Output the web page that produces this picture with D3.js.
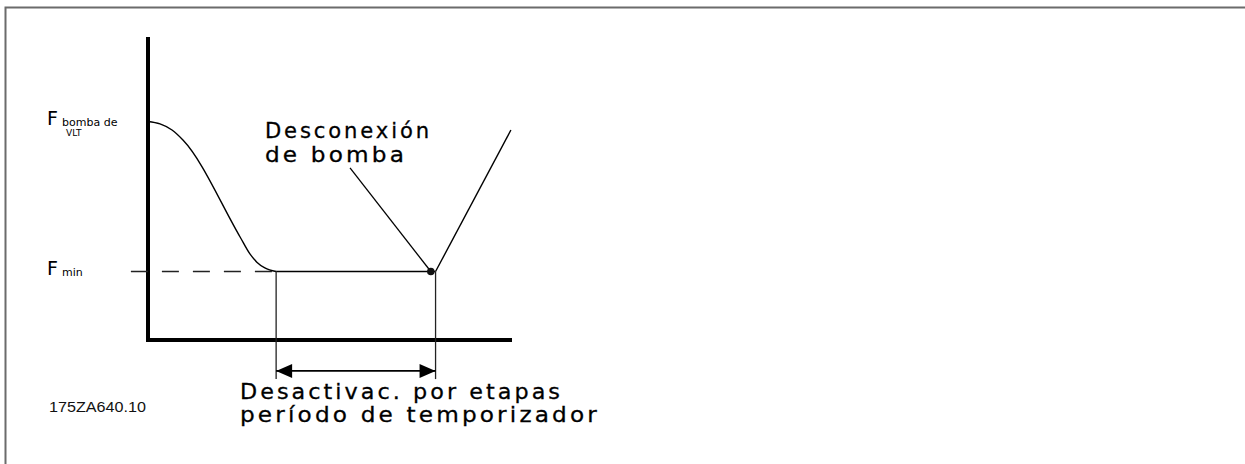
<!DOCTYPE html>
<html>
<head>
<meta charset="utf-8">
<script src="https://cdn.jsdelivr.net/npm/d3@7"></script>
<style>
	body { margin: 0; background: #fff; }
	svg { display: block; }
</style>
</head>
<body>
<div id="chart"></div>
<script>
const containerWidth = 1245;
const containerHeight = 464;

// curve of the pump frequency going down to F min
const curveTime = [0, 3.3, 6.6, 9.6, 25.3, 28.0, 29.9, 32.1, 35.2];
const curveFreq = [72.1, 71.3, 69.3, 66.0, 34.0, 28.4, 25.7, 23.8, 22.6];

// levels and times
const fMin = 22.6;
const stageStart = 35.2;
const stageEnd = 79.0;
const dotTime = 77.7;
const riseTime = [79.0, 99.7];
const riseFreq = [22.6, 69.3];
const leaderFrom = [55.5, 56.8];

// texts
const yLabels = [
	{ main: "F", sub: ["bomba de", "VLT"], freq: 72.1 },
	{ main: "F", sub: ["min"], freq: fMin }
];
const noteLines = ["Desconexión", "de bomba"];
const timerLines = ["Desactivac. por etapas", "período de temporizador"];
const codeLabel = "175ZA640.10";

const cadFont = '"DejaVu Sans", "Noto Sans", sans-serif';

const svgContainer = d3.select("#chart")
						.append('svg')
						.attr('width', containerWidth)
						.attr('height', containerHeight);

//Frame
svgContainer.append('path')
			.attr('d', 'M5.5,' + containerHeight + ' V7.5 H' + containerWidth)
			.attr('fill', 'none')
			.attr('stroke', '#6b6b6b')
			.attr('stroke-width', 2);

//Scales
const scaleX = d3.scaleLinear()
				 .domain([0, 100])
				 .range([148, 512]);

const scaleY = d3.scaleLinear()
				 .domain([0, 100])
				 .range([340, 37]);

//Axes (no ticks, just thick lines)
svgContainer.append('path')
			.attr('d', 'M' + scaleX(0) + ',' + scaleY(100) + ' V' + scaleY(0) + ' H' + scaleX(100))
			.attr('fill', 'none')
			.attr('stroke', '#000')
			.attr('stroke-width', 4)
			.attr('stroke-linejoin', 'miter');

const line = d3.line()
			   .x(d => scaleX(d[0]))
			   .y(d => scaleY(d[1]));

//Dashed F min guide
svgContainer.append('path')
			.attr('d', line([[-4.7, fMin], [stageStart, fMin]]))
			.attr('stroke', '#222')
			.attr('stroke-width', 1.3)
			.attr('stroke-dasharray', '17,14');

//Frequency curve
const curvePoints = curveTime.map((t, i) => [t, curveFreq[i]]);
svgContainer.append('path')
			.attr('d', line.curve(d3.curveMonotoneX)(curvePoints))
			.attr('fill', 'none')
			.attr('stroke', '#000')
			.attr('stroke-width', 1.4);
line.curve(d3.curveLinear);

//Flat part at F min
svgContainer.append('path')
			.attr('d', line([[stageStart, fMin], [stageEnd, fMin]]))
			.attr('stroke', '#000')
			.attr('stroke-width', 1.4);

//Rising line
svgContainer.append('path')
			.attr('d', line(riseTime.map((t, i) => [t, riseFreq[i]])))
			.attr('stroke', '#000')
			.attr('stroke-width', 1.4);

//Leader from note to the point
svgContainer.append('path')
			.attr('d', line([leaderFrom, [dotTime, fMin]]))
			.attr('stroke', '#000')
			.attr('stroke-width', 1.3);

svgContainer.append('circle')
			.attr('cx', scaleX(dotTime))
			.attr('cy', scaleY(fMin))
			.attr('r', 3.8)
			.attr('fill', '#111');

//Timer period: vertical marks and double arrow
const arrowFreq = -10.2;
const markBottom = -12.9;
[stageStart, stageEnd].forEach(t => {
	svgContainer.append('path')
				.attr('d', line([[t, fMin], [t, markBottom]]))
				.attr('stroke', '#222')
				.attr('stroke-width', 1.3);
});

svgContainer.append('path')
			.attr('d', line([[stageStart, arrowFreq], [stageEnd, arrowFreq]]))
			.attr('stroke', '#000')
			.attr('stroke-width', 1.6);

const ay = scaleY(arrowFreq);
const ax1 = scaleX(stageStart);
const ax2 = scaleX(stageEnd);
svgContainer.append('path')
			.attr('d', 'M' + ax1 + ',' + ay + ' l16,-7 v14 Z M' + ax2 + ',' + ay + ' l-16,-7 v14 Z')
			.attr('fill', '#000');

//Y labels
yLabels.forEach(l => {
	let y = scaleY(l.freq) + 3;
	svgContainer.append('text')
				.attr('x', 47)
				.attr('y', y)
				.style('font-family', cadFont)
				.style('font-size', '19px')
				.attr('fill', '#000')
				.text(l.main);
	l.sub.forEach((s, i) => {
		svgContainer.append('text')
					.attr('x', i == 0 ? 62 : 66)
					.attr('y', y + (i == 0 ? 1 : 11))
					.style('font-family', cadFont)
					.style('font-size', i == 0 ? '11px' : '9px')
					.attr('fill', '#000')
					.text(s);
	});
});

//Notes
function cadText(s, x, y, len) {
	svgContainer.append('text')
				.attr('x', x)
				.attr('y', y)
				.attr('textLength', len)
				.attr('lengthAdjust', 'spacingAndGlyphs')
				.style('font-family', cadFont)
				.style('font-size', '22px')
				.style('letter-spacing', '3px')
				.attr('fill', '#000')
				.attr('stroke', '#000')
				.attr('stroke-width', 0.3)
				.text(s);
}

noteLines.forEach((s, i) => cadText(s, 265, 138 + i * 23.5, i == 0 ? 167 : 142));
timerLines.forEach((s, i) => cadText(s, 240, 398.5 + i * 23.5, i == 0 ? 323 : 360));

svgContainer.append('text')
			.attr('x', 49)
			.attr('y', 412)
			.attr('textLength', 97)
			.attr('lengthAdjust', 'spacingAndGlyphs')
			.style('font-family', '"Liberation Sans", Arial, sans-serif')
			.style('font-size', '14px')
			.attr('fill', '#111')
			.text(codeLabel);
</script>
</body>
</html>
